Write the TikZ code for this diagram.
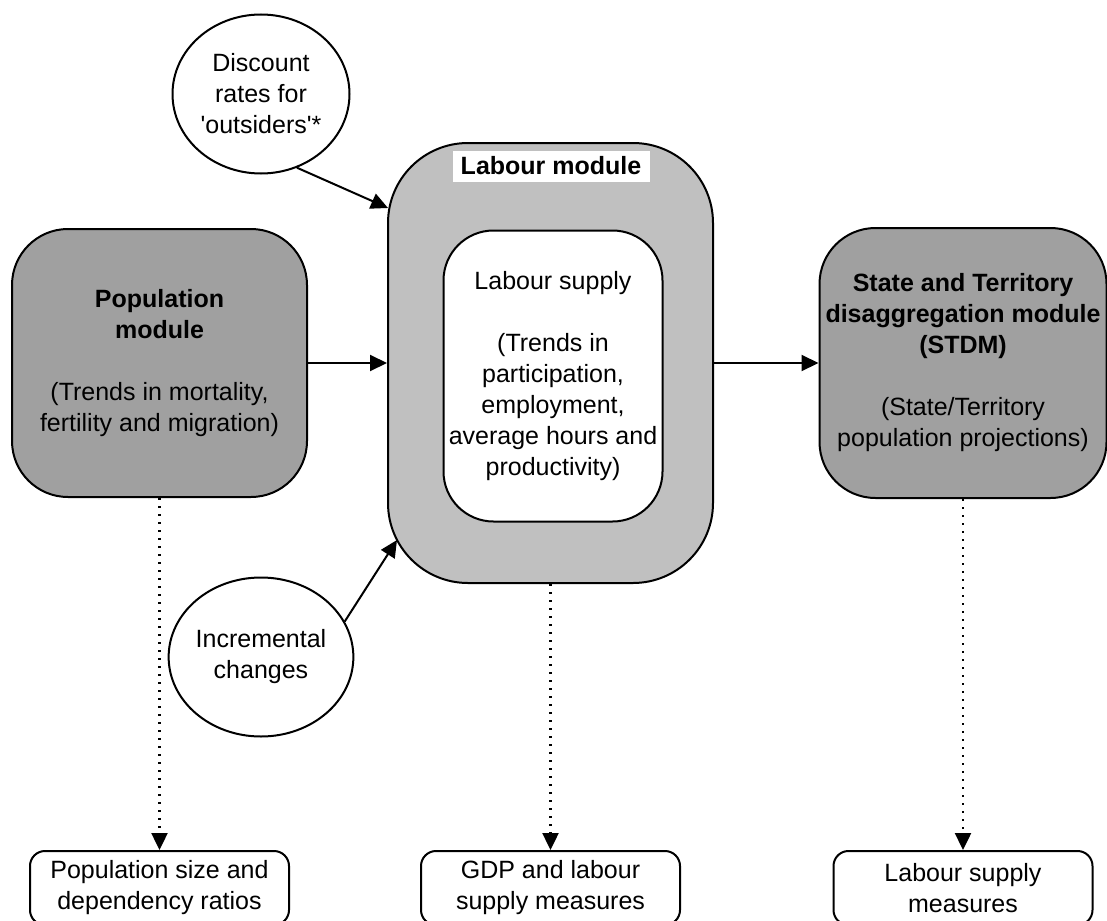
\documentclass[tikz,border=0pt]{standalone}
\usepackage{fontspec}
\setmainfont{Liberation Sans}
\usetikzlibrary{arrows.meta,shapes.geometric}

\definecolor{popgray}{RGB}{160,160,160}
\definecolor{labgray}{RGB}{192,192,192}

\begin{document}
\begin{tikzpicture}[x=0.5pt, y=-0.5pt, line width=1pt,
  font=\fontsize{12.5}{15.5}\selectfont,
  >={Triangle[length=8.5pt,width=8pt]},
  module/.style = {draw, fill=popgray, rounded corners=28pt, align=center, inner sep=0pt},
  oval/.style = {draw, ellipse, fill=white, align=center, inner sep=0pt,
                 minimum width=88.5pt, minimum height=79.5pt},
  result/.style = {draw, fill=white, rounded corners=7.5pt, align=center, inner sep=0pt,
                   minimum width=129.5pt, minimum height=37pt},
  dots/.style = {line width=1.2pt, dash pattern=on 0.8pt off 3.2pt}]

\useasboundingbox (0,0) rectangle (1107,920);

% input circles
\node[oval] (disc) at (261,94) {Discount\\rates for\\\textquotesingle outsiders\textquotesingle*};
\node[oval] (incr) at (261,657) {Incremental\\changes};

% modules
\node[module, minimum width=147.5pt, minimum height=134pt] (pop) at (159.5,363)
  {\textbf{Population}\\\textbf{module}\\[15.5pt](Trends in mortality,\\fertility and migration)};
\node[module, fill=labgray, rounded corners=40pt, minimum width=162.5pt, minimum height=220pt] (lab) at (550.5,363) {};
\node[draw, fill=white, rounded corners=25pt, align=center, inner sep=0pt,
      minimum width=109.5pt, minimum height=145.5pt] (sup) at (553,376)
  {Labour supply\\[15.5pt](Trends in\\participation,\\employment,\\average hours and\\productivity)};
\node[fill=white, inner sep=0pt, minimum width=98.5pt, minimum height=15.5pt] (labtitle) at (551,166) {\textbf{Labour module}};
\node[module, minimum width=143.5pt, minimum height=135pt] (stdm) at (963,363)
  {\textbf{State and Territory}\\\textbf{disaggregation module}\\\textbf{(STDM)}\\[15.5pt](State/Territory\\population projections)};

% outputs
\node[result] (popout) at (159.5,888) {Population size and\\dependency ratios};
\node[result] (gdpout) at (550.5,888) {GDP and labour\\supply measures};
\node[result] (labout) at (963,888) {Labour supply\\measures};

\coordinate (discTip) at (388,208);
\coordinate (incrTip) at (397,540);

\draw[->] (disc.-64) -- (discTip);
\draw[->] (incr.23) -- (incrTip);
\draw[->] (pop) -- (lab);
\draw[->] (lab) -- (stdm);

\draw[->, dots] (pop) -- (popout);
\draw[->, dots] (lab) -- (gdpout);
\draw[->, dots] (stdm) -- (labout);

\end{tikzpicture}
\end{document}
